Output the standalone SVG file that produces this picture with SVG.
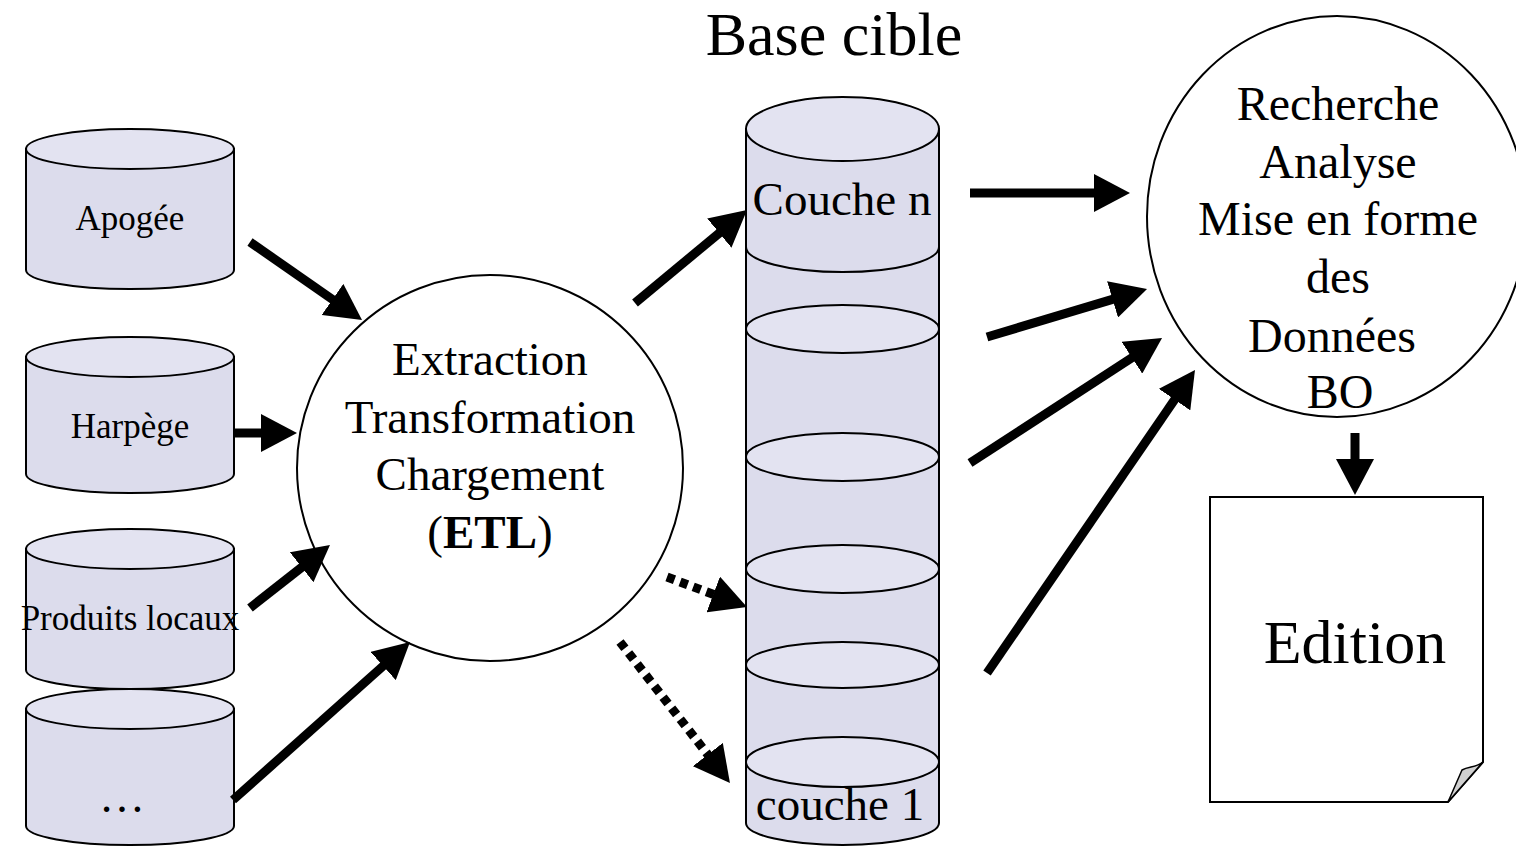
<svg xmlns="http://www.w3.org/2000/svg" width="1516" height="846" viewBox="0 0 1516 846">
<style>
.body{fill:#DCDCEC;stroke:#000;stroke-width:2}
.top{fill:#E3E3F1;stroke:#000;stroke-width:2}
.ln{fill:none;stroke:#000;stroke-width:2}
.t{font-family:"Liberation Serif","Times New Roman",serif;fill:#000;text-anchor:middle}
.s{font-size:35px}
.m{font-size:47px}
.arr{fill:none;stroke:#000;stroke-width:9;marker-end:url(#ah)}
.dot{fill:none;stroke:#000;stroke-width:9;stroke-dasharray:8 6;marker-end:url(#ah)}
</style>
<defs>
<marker id="ah" markerUnits="userSpaceOnUse" markerWidth="36" markerHeight="38" viewBox="0 0 36 38" refX="6" refY="19" orient="auto">
<path d="M0,0 L36,19 L0,38 Z" fill="#000"/>
</marker>
</defs>
<rect width="1516" height="846" fill="#fff"/>

<text class="t" x="834" y="55" style="font-size:62px">Base cible</text>

<g id="apogee">
<path class="body" d="M26,149 L26,270 A104,19 0 0 0 234,270 L234,149 Z"/>
<ellipse class="top" cx="130" cy="149" rx="104" ry="20"/>
<text class="t s" x="130" y="230">Apogée</text>
</g>
<g id="harpege">
<path class="body" d="M26,357 L26,474 A104,19 0 0 0 234,474 L234,357 Z"/>
<ellipse class="top" cx="130" cy="357" rx="104" ry="20"/>
<text class="t s" x="130" y="438">Harpège</text>
</g>
<g id="produits">
<path class="body" d="M26,549 L26,670 A104,19 0 0 0 234,670 L234,549 Z"/>
<ellipse class="top" cx="130" cy="549" rx="104" ry="20"/>
<text class="t s" x="130" y="630">Produits locaux</text>
</g>
<g id="autres">
<path class="body" d="M26,709 L26,826 A104,19 0 0 0 234,826 L234,709 Z"/>
<ellipse class="top" cx="130" cy="709" rx="104" ry="20"/>
<text class="t" x="122" y="812" style="font-size:46px">…</text>
</g>

<g id="etl">
<circle cx="490" cy="468" r="193" fill="#fff" stroke="#000" stroke-width="2"/>
<text class="t m" x="490" y="375">Extraction</text>
<text class="t m" x="490" y="433">Transformation</text>
<text class="t m" x="490" y="490">Chargement</text>
<text class="t m" x="490" y="548">(<tspan font-weight="bold">ETL</tspan>)</text>
</g>

<g id="base-cible">
<path class="body" d="M746,129 L746,823 A96.5,22 0 0 0 939,823 L939,129 Z"/>
<ellipse class="top" cx="842.5" cy="129" rx="96.5" ry="32"/>
<path class="ln" d="M746,247 A96.5,25 0 0 0 939,247"/>
<ellipse class="top" cx="842.5" cy="329" rx="96.5" ry="24"/>
<ellipse class="top" cx="842.5" cy="457" rx="96.5" ry="24"/>
<ellipse class="top" cx="842.5" cy="569" rx="96.5" ry="24"/>
<ellipse class="top" cx="842.5" cy="665" rx="96.5" ry="23"/>
<ellipse class="top" cx="842.5" cy="762" rx="96.5" ry="25"/>
<text class="t m" x="842" y="215">Couche n</text>
<text class="t m" x="840" y="820">couche 1</text>
</g>

<g id="bo">
<ellipse cx="1337" cy="216.5" rx="190" ry="200.5" fill="#fff" stroke="#000" stroke-width="2"/>
<text class="t" x="1338" y="120" style="font-size:48px">Recherche</text>
<text class="t" x="1338" y="178" style="font-size:48px">Analyse</text>
<text class="t" x="1338" y="235" style="font-size:48px">Mise en forme</text>
<text class="t" x="1338" y="293" style="font-size:48px">des</text>
<text class="t" x="1332" y="352" style="font-size:48px">Données</text>
<text class="t" x="1340" y="408" style="font-size:48px">BO</text>
</g>

<g id="edition">
<path d="M1210,497 H1483 V762 L1448,802 H1210 Z" fill="#fff" stroke="#000" stroke-width="2"/>
<path d="M1483,762 C1476,768 1469,766 1462,770 L1448,802 Z" fill="#D0D0D0" stroke="#000" stroke-width="1.5"/>
<text class="t" x="1355" y="663" style="font-size:62px">Edition</text>
</g>

<g id="connectors">
<line class="arr" x1="250" y1="242" x2="337.4" y2="302.9"/>
<line class="arr" x1="235" y1="433" x2="267" y2="433"/>
<line class="arr" x1="250" y1="608" x2="306.4" y2="563.6"/>
<line class="arr" x1="233" y1="800" x2="387.6" y2="662"/>
<line class="arr" x1="635" y1="303" x2="723.9" y2="229.2"/>
<line class="dot" x1="667" y1="577" x2="718.9" y2="596.5"/>
<line class="dot" x1="620" y1="642" x2="711.5" y2="759.3"/>
<line class="arr" x1="970" y1="193" x2="1100" y2="193"/>
<line class="arr" x1="987" y1="337" x2="1118.3" y2="297.6"/>
<line class="arr" x1="970" y1="463" x2="1136.9" y2="354.4"/>
<line class="arr" x1="987" y1="673" x2="1178" y2="394.7"/>
<line class="arr" x1="1355" y1="433" x2="1355" y2="465"/>
</g>
</svg>
